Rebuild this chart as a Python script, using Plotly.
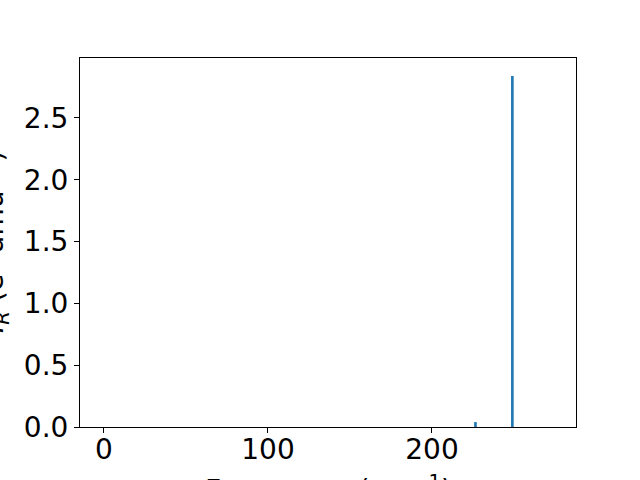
import plotly.graph_objects as go

frequencies = [226.5, 249.0]
intensities = [0.04, 2.84]
bar_width = 1.6
x_ticks = [0, 100, 200]
y_ticks = [0.0, 0.5, 1.0, 1.5, 2.0, 2.5]

fig = go.Figure()
fig.add_trace(go.Bar(x=frequencies, y=intensities, width=bar_width,
                     marker=dict(color="#1f77b4", line=dict(width=0))))

font = dict(family="DejaVu Sans", size=28, color="black")
axis_common = dict(showline=True, linecolor="black", linewidth=1, mirror=True,
                   ticks="outside", ticklen=5, tickwidth=1, tickcolor="black",
                   showgrid=False, zeroline=False, tickfont=font, automargin=False)

fig.update_layout(
    width=640, height=480,
    margin=dict(l=80, r=64, t=58, b=53),
    plot_bgcolor="white", paper_bgcolor="white",
    showlegend=False,
    xaxis=dict(range=[-14.6, 287.8], tickvals=x_ticks, ticktext=[str(v) for v in x_ticks],
               ticklabelstandoff=-8, **axis_common),
    yaxis=dict(range=[0, 2.985], tickvals=y_ticks, ticktext=[f"{v:.1f}" for v in y_ticks], **axis_common),
    annotations=[
        dict(text="Frequency (cm<sup>−1</sup>)", xref="paper", yref="paper",
             x=0.5, y=-0.11, xanchor="center", yanchor="top", showarrow=False, font=font),
        dict(text="<i>I</i><sub><i>R</i></sub> (e<sup>2</sup> amu<sup>−1</sup>)", xref="paper", yref="paper",
             x=-0.129, y=0.5, xanchor="right", yanchor="middle", textangle=-90,
             showarrow=False, font=font),
    ],
)

fig.write_html("out.html", config={"displayModeBar": False},
               post_script="document.body.style.margin='0';")
